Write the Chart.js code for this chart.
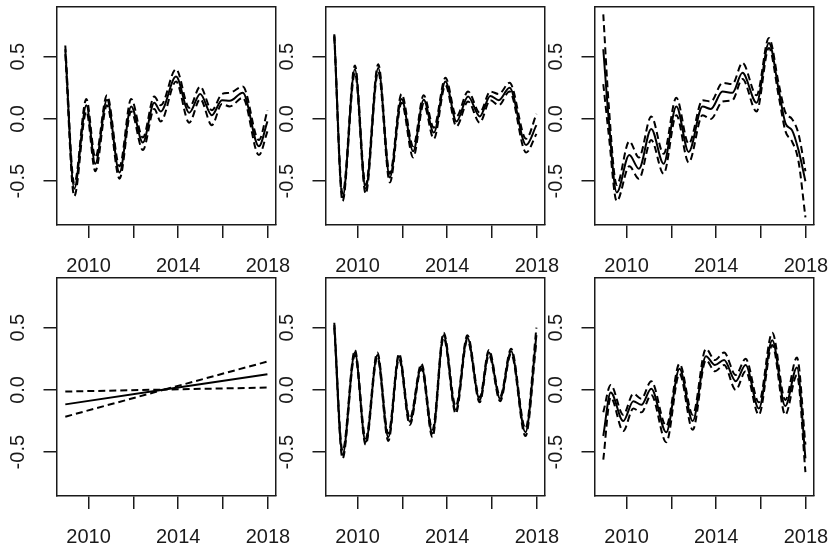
<!DOCTYPE html>
<html><head><meta charset="utf-8">
<script src="https://cdn.jsdelivr.net/npm/chart.js@4"></script>
<style>
html,body{margin:0;padding:0;background:#fff;overflow:hidden;width:832px;height:549px;position:relative}
canvas{position:absolute}
</style></head><body>
<canvas id="c1" width="294" height="278" style="left:0px;top:0px"></canvas>
<canvas id="c2" width="294" height="278" style="left:269px;top:0px"></canvas>
<canvas id="c3" width="294" height="278" style="left:538px;top:0px"></canvas>
<canvas id="c4" width="294" height="278" style="left:0px;top:271px"></canvas>
<canvas id="c5" width="294" height="278" style="left:269px;top:271px"></canvas>
<canvas id="c6" width="294" height="278" style="left:538px;top:271px"></canvas>
<script>
// ---- data ----
const xTicks = [2010, 2012, 2014, 2016, 2018];
const xTickLabels = ['2010', '', '2014', '', '2018'];
const yTicks = [-0.5, 0, 0.5];
const yTickLabels = ['-0.5', '0.0', '0.5'];
const xMin = 2008.59, xMax = 2018.34;
const yMin = -0.848, yMax = 0.899;

const p1Years = [2008.96, 2009.36, 2009.9, 2010.3, 2010.82, 2011.38, 2011.9, 2012.42, 2012.93, 2013.22, 2013.9, 2014.49, 2014.98, 2015.5, 2015.95, 2016.3, 2016.88, 2017.6, 2017.98];
const p1Fit   = [0.56, -0.56, 0.11, -0.36, 0.155, -0.43, 0.1, -0.19, 0.13, 0.06, 0.34, 0.05, 0.2, 0.03, 0.15, 0.145, 0.21, -0.22, -0.02];
const p1Upper = [0.59, -0.52, 0.16, -0.31, 0.19, -0.38, 0.16, -0.15, 0.18, 0.11, 0.4, 0.09, 0.26, 0.07, 0.2, 0.21, 0.26, -0.17, 0.07];
const p1Lower = [0.52, -0.62, 0.06, -0.42, 0.11, -0.48, 0.06, -0.25, 0.08, -0.02, 0.3, -0.03, 0.16, -0.05, 0.12, 0.1, 0.17, -0.29, -0.1];

const p2Years = [2008.96, 2009.33, 2009.88, 2010.36, 2010.92, 2011.44, 2011.96, 2012.48, 2012.95, 2013.4, 2013.92, 2014.41, 2014.93, 2015.45, 2015.92, 2016.3, 2016.78, 2017.52, 2017.98];
const p2Fit   = [0.67, -0.63, 0.4, -0.56, 0.41, -0.47, 0.16, -0.26, 0.155, -0.11, 0.3, -0.02, 0.18, 0.02, 0.185, 0.15, 0.25, -0.21, -0.05];
const p2Upper = [0.68, -0.6, 0.43, -0.53, 0.44, -0.44, 0.2, -0.22, 0.19, -0.07, 0.33, 0.02, 0.22, 0.05, 0.22, 0.2, 0.29, -0.16, 0.04];
const p2Lower = [0.66, -0.66, 0.37, -0.6, 0.38, -0.51, 0.13, -0.31, 0.12, -0.16, 0.27, -0.06, 0.14, -0.03, 0.15, 0.11, 0.22, -0.27, -0.12];

const p3Years = [2008.96, 2009.2, 2009.56, 2010.12, 2010.55, 2011.1, 2011.65, 2012.22, 2012.77, 2013.39, 2013.76, 2014.28, 2014.72, 2015.17, 2015.8, 2016.35, 2016.79, 2017.09, 2017.38, 2017.67, 2017.98];
const p3Fit   = [0.56, 0.0, -0.59, -0.29, -0.4, -0.08, -0.36, 0.1, -0.265, 0.1, 0.08, 0.22, 0.21, 0.37, 0.13, 0.61, 0.23, -0.035, -0.09, -0.25, -0.5];
const p3Upper = [0.84, 0.12, -0.53, -0.18, -0.31, 0.02, -0.28, 0.17, -0.2, 0.15, 0.14, 0.29, 0.28, 0.45, 0.19, 0.65, 0.28, 0.05, 0.0, -0.12, -0.42];
const p3Lower = [0.28, -0.12, -0.66, -0.38, -0.48, -0.17, -0.44, 0.03, -0.35, 0.03, 0.0, 0.14, 0.15, 0.32, 0.06, 0.57, 0.18, -0.1, -0.18, -0.34, -0.79];

const p4Years = [2008.96, 2013.39, 2017.98];
const p4Fit   = [-0.116, 0.003, 0.126];
const p4Upper = [-0.013, 0.003, 0.228];
const p4Lower = [-0.215, 0.003, 0.019];

const p5Years = [2008.96, 2009.33, 2009.88, 2010.36, 2010.88, 2011.37, 2011.85, 2012.33, 2012.85, 2013.34, 2013.84, 2014.38, 2014.9, 2015.45, 2015.86, 2016.36, 2016.85, 2017.49, 2017.98];
const p5Fit   = [0.52, -0.52, 0.3, -0.42, 0.28, -0.38, 0.27, -0.255, 0.19, -0.35, 0.44, -0.16, 0.42, -0.08, 0.3, -0.07, 0.31, -0.34, 0.44];
const p5Upper = [0.54, -0.49, 0.32, -0.39, 0.3, -0.35, 0.29, -0.23, 0.21, -0.32, 0.46, -0.13, 0.44, -0.06, 0.32, -0.05, 0.33, -0.31, 0.5];
const p5Lower = [0.5, -0.55, 0.28, -0.44, 0.26, -0.41, 0.25, -0.28, 0.17, -0.38, 0.42, -0.19, 0.4, -0.1, 0.28, -0.09, 0.29, -0.37, 0.39];

const p6Years = [2008.96, 2009.29, 2009.85, 2010.3, 2010.66, 2011.1, 2011.77, 2012.36, 2012.95, 2013.54, 2013.94, 2014.35, 2014.87, 2015.31, 2015.9, 2016.5, 2017.08, 2017.6, 2017.98];
const p6Fit   = [-0.37, -0.02, -0.25, -0.09, -0.12, 0.01, -0.34, 0.17, -0.25, 0.27, 0.2, 0.24, 0.07, 0.2, -0.15, 0.4, -0.13, 0.18, -0.55];
const p6Upper = [-0.18, 0.04, -0.2, -0.03, -0.07, 0.07, -0.29, 0.21, -0.2, 0.33, 0.24, 0.3, 0.12, 0.25, -0.1, 0.46, -0.08, 0.26, -0.44];
const p6Lower = [-0.56, -0.06, -0.33, -0.15, -0.18, -0.04, -0.42, 0.13, -0.32, 0.24, 0.15, 0.2, 0.0, 0.15, -0.2, 0.36, -0.2, 0.12, -0.66];

// ---- drawing ----
const FONT = {family: '"Liberation Sans", Arial, Helvetica, sans-serif', size: 20};
const AXIS_COLOR = '#1a1a1a';
const LINE_COLOR = '#000';

function pts(xs, ys) { return xs.map((x, i) => ({x: x, y: ys[i]})); }

function makeChart(id, years, fit, upper, lower, straight) {
  const interp = straight ? {tension: 0} : {cubicInterpolationMode: 'monotone'};
  const dashed = Object.assign({borderColor: LINE_COLOR, borderWidth: 2, borderDash: [7, 4], pointRadius: 0, fill: false}, interp);
  const solid = Object.assign({borderColor: LINE_COLOR, borderWidth: 2, pointRadius: 0, fill: false}, interp);
  const border = {display: true, color: AXIS_COLOR, width: 1.5};
  new Chart(document.getElementById(id), {
    type: 'line',
    data: {datasets: [
      Object.assign({label: 'upper', data: pts(years, upper)}, dashed),
      Object.assign({label: 'lower', data: pts(years, lower)}, dashed),
      Object.assign({label: 'fit', data: pts(years, fit)}, solid)
    ]},
    options: {
      responsive: false, animation: false, devicePixelRatio: 1,
      layout: {padding: {left: 0, top: 7, right: 18.5, bottom: 0}},
      plugins: {legend: {display: false}, tooltip: {enabled: false}},
      scales: {
        x: {
          type: 'linear', position: 'bottom', min: xMin, max: xMax,
          afterBuildTicks: s => { s.ticks = xTicks.map(v => ({value: v})); },
          afterFit: s => { s.height = 53.5; s.paddingLeft = 0; s.paddingRight = 0; },
          grid: {display: true, drawOnChartArea: false, drawTicks: true, tickLength: 13.5, color: AXIS_COLOR, lineWidth: 1.5},
          border: border,
          ticks: {autoSkip: false, minRotation: 0, maxRotation: 0, padding: 16, color: AXIS_COLOR, font: FONT,
                  callback: v => xTickLabels[xTicks.indexOf(v)]}
        },
        y: {
          type: 'linear', position: 'left', min: yMin, max: yMax,
          afterBuildTicks: s => { s.ticks = yTicks.map(v => ({value: v})); },
          afterFit: s => { s.width = 57; s.paddingTop = 0; s.paddingBottom = 0; },
          grid: {display: true, drawOnChartArea: false, drawTicks: true, tickLength: 13.5, color: AXIS_COLOR, lineWidth: 1.5},
          border: border,
          ticks: {autoSkip: false, minRotation: 90, maxRotation: 90, crossAlign: 'center', padding: 8, color: AXIS_COLOR, font: FONT,
                  callback: v => yTickLabels[yTicks.indexOf(v)]}
        },
        x2: {
          type: 'linear', position: 'top', min: xMin, max: xMax,
          afterFit: s => { s.height = 0; s.paddingLeft = 0; s.paddingRight = 0; },
          grid: {display: false, drawTicks: false}, border: border, ticks: {display: false}
        },
        y2: {
          type: 'linear', position: 'right', min: yMin, max: yMax,
          afterFit: s => { s.width = 0; s.paddingTop = 0; s.paddingBottom = 0; },
          grid: {display: false, drawTicks: false}, border: border, ticks: {display: false}
        }
      }
    }
  });
}

makeChart('c1', p1Years, p1Fit, p1Upper, p1Lower, false);
makeChart('c2', p2Years, p2Fit, p2Upper, p2Lower, false);
makeChart('c3', p3Years, p3Fit, p3Upper, p3Lower, false);
makeChart('c4', p4Years, p4Fit, p4Upper, p4Lower, true);
makeChart('c5', p5Years, p5Fit, p5Upper, p5Lower, false);
makeChart('c6', p6Years, p6Fit, p6Upper, p6Lower, false);
</script>
</body></html>
